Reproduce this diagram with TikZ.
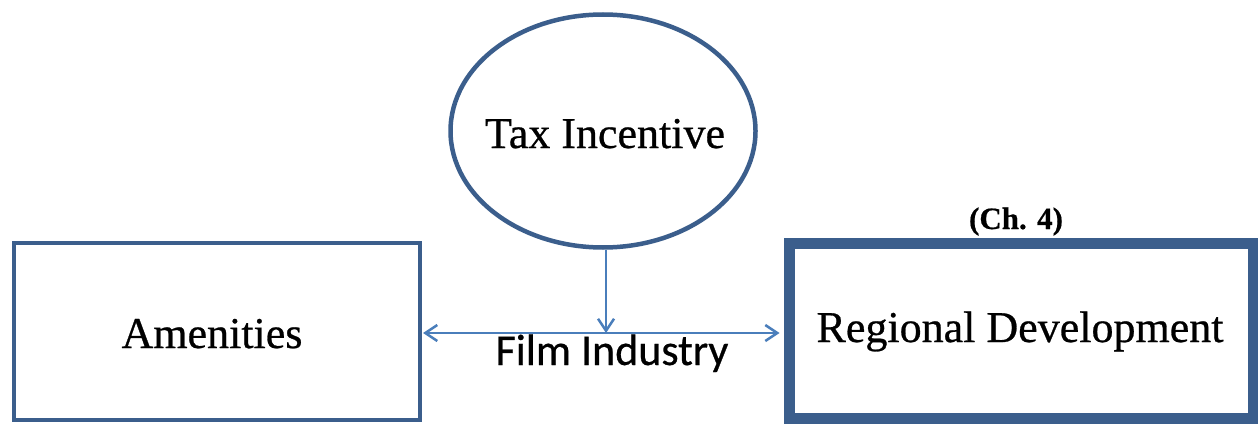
\documentclass[tikz,border=0pt]{standalone}
\usepackage{fontspec}
\setmainfont[FakeBold=0.6]{Liberation Serif}
\newfontfamily\calib[FakeBold=0.6]{Carlito}
\usetikzlibrary{arrows.meta,shapes.geometric}
\definecolor{boxblue}{HTML}{3B5E8C}
\definecolor{arrblue}{HTML}{4A7EBB}
\tikzset{
  boxA/.style={draw=boxblue,line width=4pt,minimum width=406pt,minimum height=177pt,inner sep=0pt},
  boxB/.style={draw=boxblue,line width=11pt,minimum width=464pt,minimum height=175pt,inner sep=0pt},
  ell/.style={ellipse,draw=boxblue,line width=4.5pt,minimum width=305pt,minimum height=233pt,inner sep=0pt},
  arr/.style={draw=arrblue,line width=2.5pt,-{Straight Barb[length=12pt,width=16pt,line width=2.5pt]}},
  arrb/.style={draw=arrblue,line width=2.5pt,{Straight Barb[length=12pt,width=16pt,line width=2.5pt]}-{Straight Barb[length=12pt,width=16pt,line width=2.5pt]}},
  lbl/.style={font=\fontsize{44}{48}\selectfont,inner sep=0pt,anchor=base}
}
\begin{document}
\begin{tikzpicture}[x=1pt,y=1pt]
\useasboundingbox (0,0) rectangle (1258,424);
\fill[white] (0,0) rectangle (1258,424);
\node[boxA] (amen) at (217,92.5) {};
\node[boxB] (reg) at (1021,93.5) {};
\node[ell] (tax) at (603,293) {};
\node[lbl] (tamen) at (212,76) {Amenities};
\node[lbl] (treg) at (1020,82) {Regional Development};
\node[lbl] (ttax) at (605,276) {Tax Incentive};
\node[font=\bfseries\fontsize{31}{34}\selectfont,inner sep=0pt,anchor=base] (ch) at (1016,195) {(Ch. 4)};
\coordinate (j) at (606,91);
\draw[arr] (tax.south -| j) -- (j);
\draw[arrb] (amen.east |- j) ++(1pt,0) -- ([xshift=-4pt]reg.west |- j);
\node[lbl,font=\calib\fontsize{44}{48}\selectfont] (film) at (612,59) {Film Industry};
\end{tikzpicture}
\end{document}
